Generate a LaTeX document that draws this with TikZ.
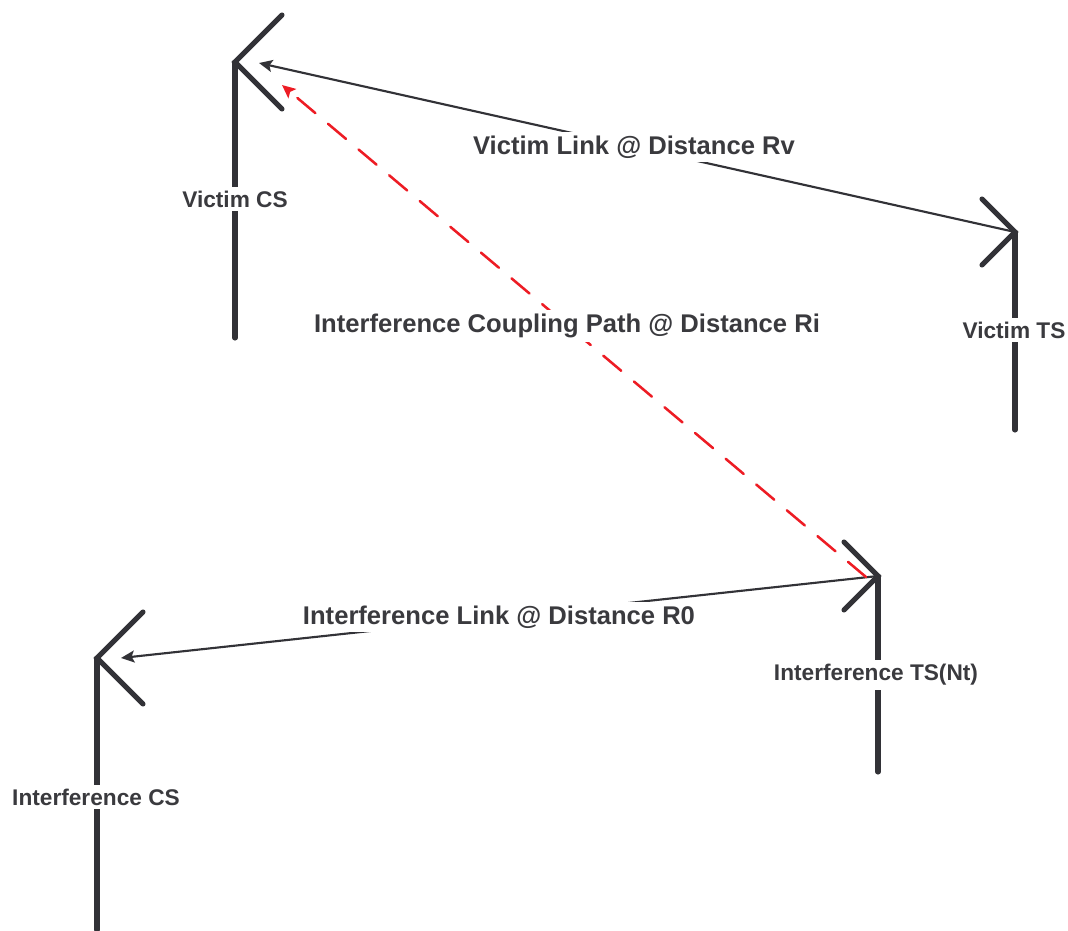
\documentclass[tikz,border=0pt]{standalone}
\usepackage{fontspec}
\setmainfont{Liberation Sans}
\usetikzlibrary{arrows.meta}
\definecolor{antgray}{RGB}{50,50,55}
\definecolor{txtgray}{RGB}{58,58,62}
\definecolor{pathred}{RGB}{237,28,36}

\begin{document}
\begin{tikzpicture}[x=0.75pt,y=-0.75pt,
  mast/.style={draw=antgray,line width=3.8pt,line cap=round},
  link/.style={draw=antgray,line width=1.6pt,-{Stealth[length=10pt,width=9pt,inset=2pt]}},
  coupling/.style={draw=pathred,line width=1.9pt,line cap=round,
                   dash pattern=on 17.6pt off 12.4pt,
                   -{Stealth[length=10pt,width=9pt,inset=2pt]}},
  sitelbl/.style={fill=white,text=txtgray,inner sep=3pt,
                  font=\bfseries\fontsize{17}{20}\selectfont},
  linklbl/.style={sitelbl,font=\bfseries\fontsize{19.2}{22}\selectfont}]
\useasboundingbox (0,0) rectangle (1068,931);

% antennas: name / x / y of the tip / arm side / arm length / foot of the mast
\foreach \nm/\px/\py/\dr/\al/\bot in {vcs/235/62/1/47/338,
                                      vts/1015/232/-1/33/430,
                                      its/878/576/-1/34/772,
                                      ics/97/658/1/46/930}
{
\coordinate (\nm) at (\px,\py);
\draw[mast] ({\px+\dr*\al},{\py-\al}) -- (\nm) -- ({\px+\dr*\al},{\py+\al});
\draw[mast] (\nm) -- (\px,\bot);
}

% where the arrows arrive
\coordinate (vcsvict) at (259,63);
\coordinate (vcsint) at (282,85);
\coordinate (itsint) at (866,577);
\coordinate (icsint) at (121,658);

\draw[link] (vts) -- (vcsvict);
\draw[link] (its) -- (icsint);
\draw[coupling] (itsint) -- (vcsint);

% labels on white, so that they cut the lines
\node[sitelbl] (vcslbl) at (235,199) {Victim CS};
\node[sitelbl] (vtslbl) at (1014,330) {Victim TS};
\node[sitelbl] (itslbl) at (876,675) {Interference TS(Nt)};
\node[sitelbl] (icslbl) at (96,797) {Interference CS};
\node[linklbl] (vlinklbl) at (634,147) {Victim Link @ Distance Rv};
\node[linklbl] (couplbl) at (567,326) {Interference Coupling Path @ Distance Ri};
\node[linklbl] (ilinklbl) at (499,617) {Interference Link @ Distance R0};
\end{tikzpicture}
\end{document}
